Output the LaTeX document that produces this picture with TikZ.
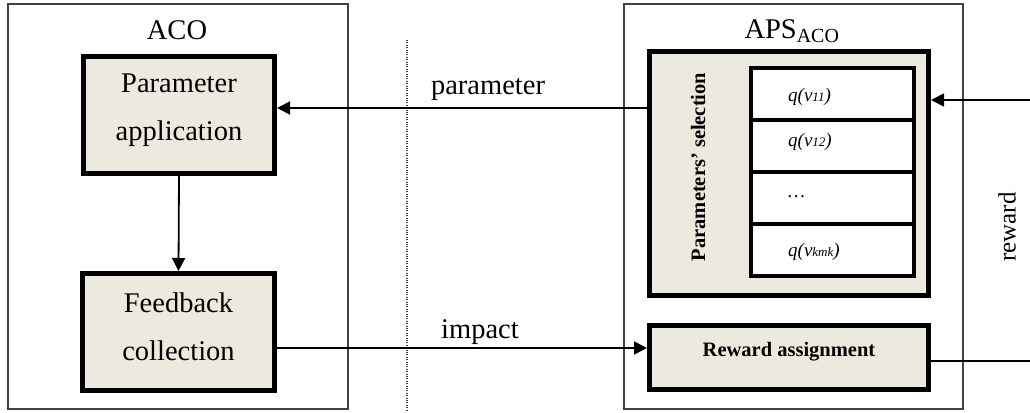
\documentclass[tikz,border=0pt]{standalone}
\usepackage{fontspec}
\setmainfont{Liberation Serif}
\usetikzlibrary{arrows.meta}
\definecolor{boxfill}{HTML}{ECE9DF}
\definecolor{frame}{HTML}{404040}
\tikzset{
  outerbox/.style={draw=frame,line width=1.3pt},
  thickbox/.style={draw=black,fill=boxfill,line width=5pt,rectangle,inner sep=0pt},
  cellbox/.style={draw=black,fill=white,line width=4pt,rectangle,inner sep=0pt,minimum width=163pt,minimum height=52pt},
  bigtext/.style={font=\fontsize{28.5}{48}\selectfont,align=center},
  boldtext/.style={font=\fontsize{20.5}{24}\selectfont\bfseries},
  celltext/.style={font=\fontsize{19}{22}\selectfont\itshape,anchor=west,inner sep=0pt},
  arr/.style={line width=1.8pt,-{Triangle[length=13pt,width=13pt]}},
  plain/.style={line width=1.8pt},
}
\newcommand{\smallsub}[1]{{\fontsize{13}{15}\selectfont #1}}
\begin{document}
\begin{tikzpicture}[x=1pt,y=-1pt]
\useasboundingbox (0,0) rectangle (1030,412);
% outer frames
\draw[outerbox] (8,4) rectangle (348,409);
\draw[outerbox] (624,4) rectangle (963,409);
\node[bigtext] (aco) at (177,30) {ACO};
\node[bigtext] (aps) at (792,31) {APS\textsubscript{ACO}};
% dotted separator
\coordinate (dtop) at (407,40);
\coordinate (dbot) at (407,410);
\draw[frame,line width=1.4pt,dash pattern=on 1pt off 1.4pt] (dtop) -- (dbot);
% left boxes
\node[thickbox,minimum width=191pt,minimum height=117pt] (pa) at (179,115) {};
\node[bigtext] (patext) at (179,110) {Parameter\\application};
\node[thickbox,minimum width=192pt,minimum height=117pt] (fc) at (178.5,332) {};
\node[bigtext] (fctext) at (178.5,327) {Feedback\\collection};
\draw[arr] (pa.south) -- (fc.north);
% right boxes
\node[thickbox,minimum width=279pt,minimum height=244pt] (psel) at (789,173.5) {};
\node[boldtext,rotate=90] (pseltext) at (698,167) {Parameters’ selection};
\node[cellbox] (c1) at (832.5,94) {};
\node[cellbox] (c2) at (832.5,146) {};
\node[cellbox] (c3) at (832.5,198) {};
\node[cellbox] (c4) at (832.5,250) {};
\node[celltext] (t1) at (788,97) {q(v\smallsub{11})};
\node[celltext] (t2) at (788,142) {q(v\smallsub{12})};
\node[celltext] (t3) at (788,197) {\ldots};
\node[celltext] (t4) at (788,252) {q(v\smallsub{kmk})};
\node[thickbox,minimum width=279pt,minimum height=64pt] (ra) at (789,357.5) {};
\node[boldtext] (ratext) at (789,352) {Reward assignment};
% connectors
\coordinate (py) at (0,108);
\coordinate (iy) at (0,348);
\coordinate (inR) at (1030,100);
\coordinate (outR) at (1030,361);
\draw[arr] (psel.west |- py) -- (pa.east |- py);
\draw[arr] (fc.east |- iy) -- (ra.west |- iy);
\draw[arr] (inR) -- (psel.east |- inR);
\draw[plain] (ra.east |- outR) -- (outR);
\node[bigtext] (plab) at (488,90) {parameter};
\node[bigtext] (ilab) at (480,332) {impact};
\node[font=\fontsize{25}{30}\selectfont,rotate=90] (rlab) at (1007,227) {reward};
\end{tikzpicture}
\end{document}
